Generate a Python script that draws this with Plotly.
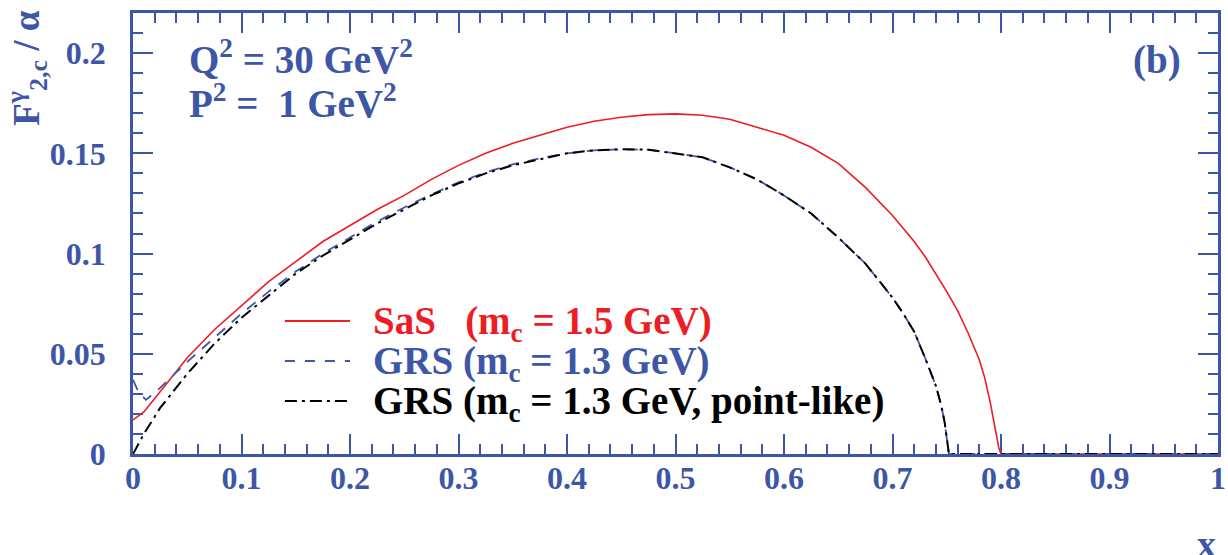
import plotly.graph_objects as go

BLUE = "#3d57a6"
RED = "#ee1c25"
BLACK = "#000000"
FONT = "Liberation Serif"

# SaS (m_c = 1.5 GeV)
x_sas = [0.0, 0.01, 0.025, 0.05, 0.075, 0.1, 0.125, 0.15, 0.175, 0.2, 0.225, 0.25,
         0.275, 0.3, 0.325, 0.35, 0.375, 0.4, 0.425, 0.45, 0.475, 0.5, 0.525, 0.55,
         0.575, 0.6, 0.625, 0.65, 0.675, 0.7, 0.71, 0.72, 0.73, 0.74, 0.75, 0.76,
         0.77, 0.78, 0.785, 0.79, 0.795, 0.798, 0.8, 1.0]
y_sas = [0.017, 0.021, 0.031, 0.048, 0.062, 0.074, 0.086, 0.096, 0.106, 0.114, 0.122, 0.129,
         0.137, 0.144, 0.150, 0.155, 0.159, 0.163, 0.166, 0.168, 0.1693, 0.1697, 0.169, 0.167,
         0.163, 0.159, 0.153, 0.145, 0.133, 0.119, 0.1125, 0.106, 0.0985, 0.090, 0.081, 0.0715,
         0.060, 0.047, 0.038, 0.026, 0.011, 0.003, 0.0, 0.0]

# GRS (m_c = 1.3 GeV)
x_grs = [0.0, 0.005, 0.012, 0.025, 0.05, 0.075, 0.1, 0.125, 0.15, 0.175, 0.2, 0.225, 0.25,
         0.275, 0.3, 0.325, 0.35, 0.375, 0.4, 0.425, 0.45, 0.475, 0.5, 0.525, 0.55,
         0.575, 0.6, 0.625, 0.65, 0.675, 0.7, 0.71, 0.72, 0.73, 0.74, 0.745, 0.748, 0.75,
         0.752, 1.0]
y_grs = [0.037, 0.031, 0.027, 0.033, 0.046, 0.058, 0.070, 0.081, 0.091, 0.100, 0.108, 0.116, 0.123,
         0.1295, 0.1355, 0.1405, 0.1445, 0.1475, 0.150, 0.1515, 0.152, 0.1518, 0.150, 0.148, 0.143,
         0.137, 0.129, 0.120, 0.108, 0.095, 0.078, 0.070, 0.061, 0.048, 0.034, 0.024, 0.016, 0.007,
         0.0, 0.0]

# GRS (m_c = 1.3 GeV, point-like)
x_pl = [0.0, 0.01, 0.025, 0.05, 0.075, 0.1, 0.125, 0.15, 0.175, 0.2, 0.225, 0.25,
        0.275, 0.3, 0.325, 0.35, 0.375, 0.4, 0.425, 0.45, 0.475, 0.5, 0.525, 0.55,
        0.575, 0.6, 0.625, 0.65, 0.675, 0.7, 0.71, 0.72, 0.73, 0.74, 0.745, 0.748, 0.75,
        0.752, 1.0]
y_pl = [0.0, 0.010, 0.023, 0.040, 0.055, 0.068, 0.079, 0.090, 0.099, 0.107, 0.115, 0.122,
        0.129, 0.135, 0.140, 0.144, 0.147, 0.150, 0.1515, 0.152, 0.1518, 0.150, 0.148, 0.143,
        0.137, 0.129, 0.120, 0.108, 0.095, 0.078, 0.070, 0.061, 0.048, 0.034, 0.024, 0.016, 0.007,
        0.0, 0.0]

x_ticks = [0, 0.1, 0.2, 0.3, 0.4, 0.5, 0.6, 0.7, 0.8, 0.9, 1]
x_ticklabels = ["0", "0.1", "0.2", "0.3", "0.4", "0.5", "0.6", "0.7", "0.8", "0.9", "1"]
y_ticks = [0, 0.05, 0.1, 0.15, 0.2]
y_ticklabels = ["0", "0.05", "0.1", "0.15", "0.2"]

legend_labels = [
    "SaS&#160;&#160;&#160;(m<sub>c</sub> = 1.5 GeV)",
    "GRS (m<sub>c</sub> = 1.3 GeV)",
    "GRS (m<sub>c</sub> = 1.3 GeV, point-like)",
]

DASH_BLUE = "11px,9px"
DASH_DOT = "12px,5px,3px,5px"

fig = go.Figure()
fig.add_trace(go.Scatter(x=x_sas, y=y_sas, mode="lines",
                         line=dict(color=RED, width=1.6), showlegend=False))
fig.add_trace(go.Scatter(x=x_grs, y=y_grs, mode="lines",
                         line=dict(color=BLUE, width=1.8, dash=DASH_BLUE), showlegend=False))
fig.add_trace(go.Scatter(x=x_pl, y=y_pl, mode="lines",
                         line=dict(color=BLACK, width=2, dash=DASH_DOT), showlegend=False))

axis_common = dict(
    showgrid=False, zeroline=False, showline=True, linecolor=BLUE, linewidth=2.5,
    mirror="allticks", ticks="inside", tickcolor=BLUE, tickwidth=2, ticklen=20,
    tickfont=dict(family=FONT, size=32, color=BLUE, weight="bold"),
    layer="below traces", automargin=False,
)

fig.update_xaxes(**axis_common, range=[0, 1], tickvals=x_ticks, ticktext=x_ticklabels,
                 minor=dict(dtick=0.02, ticks="inside", ticklen=10, tickcolor=BLUE, tickwidth=2),
                 ticklabelstandoff=-6)
fig.update_yaxes(**axis_common, range=[0, 0.22], tickvals=y_ticks, ticktext=y_ticklabels,
                 minor=dict(dtick=0.01, ticks="inside", ticklen=10, tickcolor=BLUE, tickwidth=2),
                 ticklabelstandoff=18)

annotations = [
    dict(x=0.050, y=0.1980, xref="x", yref="y", xanchor="left", yanchor="middle",
         text="Q<sup>2</sup> = 30 GeV<sup>2</sup>", showarrow=False,
         font=dict(family=FONT, size=39, color=BLUE, weight="bold")),
    dict(x=0.050, y=0.1760, xref="x", yref="y", xanchor="left", yanchor="middle",
         text="P<sup>2</sup> =&#160;&#160;1 GeV<sup>2</sup>", showarrow=False,
         font=dict(family=FONT, size=39, color=BLUE, weight="bold")),
    dict(x=0.968, y=0.1965, xref="x", yref="y", xanchor="right", yanchor="middle",
         text="(b)", showarrow=False,
         font=dict(family=FONT, size=39, color=BLUE, weight="bold")),
    dict(x=1.0, y=-0.152, xref="paper", yref="paper", xanchor="right", yanchor="top",
         text="x", showarrow=False,
         font=dict(family=FONT, size=38, color=BLUE, weight="bold")),
    dict(x=-0.098, y=1.01, xref="paper", yref="paper", xanchor="center", yanchor="top",
         text="F<sup>γ</sup><sub>2,c</sub> / α", textangle=-90, showarrow=False,
         font=dict(family=FONT, size=37, color=BLUE, weight="bold")),
]

shapes = []
legend_colors = [RED, BLUE, BLACK]
legend_dashes = ["solid", "10px,10px", DASH_DOT]
legend_widths = [1.8, 2, 2]
legend_rows = [0.3016, 0.2109, 0.1202]
for lab, col, dsh, wd, ry in zip(legend_labels, legend_colors, legend_dashes, legend_widths, legend_rows):
    shapes.append(dict(type="line", xref="paper", yref="paper", x0=0.140, x1=0.200, y0=ry, y1=ry,
                       line=dict(color=col, width=wd, dash=dsh)))
    annotations.append(dict(x=0.219, y=ry - 0.006, xref="paper", yref="paper", xanchor="left",
                            yanchor="middle", text=lab, showarrow=False,
                            font=dict(family=FONT, size=39, color=col, weight="bold")))

fig.update_layout(
    width=1228, height=555,
    margin=dict(l=133, r=10, t=13, b=101),
    paper_bgcolor="white", plot_bgcolor="white",
    annotations=annotations, shapes=shapes,
    showlegend=False,
)

fig.write_html("out.html", config={"displayModeBar": False},
               post_script="document.body.style.margin='0px';")
